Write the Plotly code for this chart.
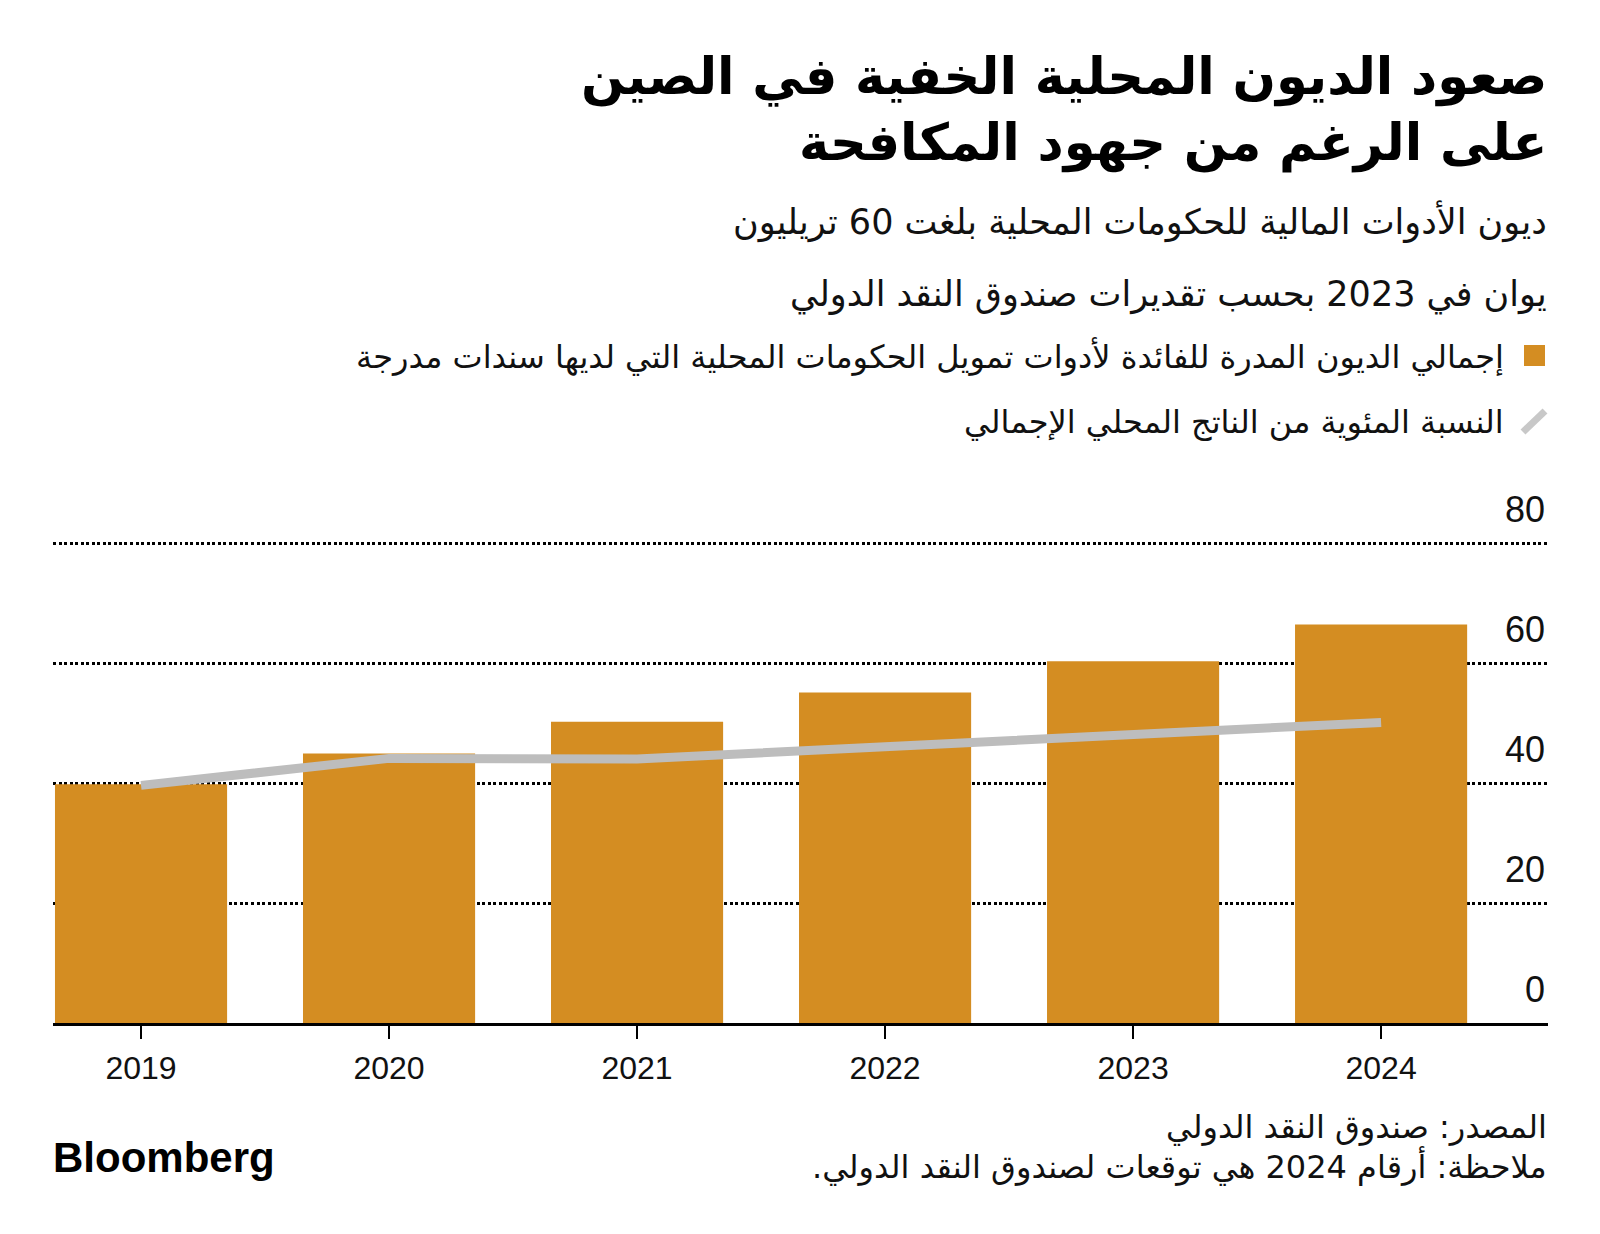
import plotly.graph_objects as go

# ---- data ----
years = ["2019", "2020", "2021", "2022", "2023", "2024"]
debt_trillion_yuan = [39.8, 44.9, 50.2, 55.1, 60.3, 66.4]
pct_of_gdp = [39.6, 44.1, 44.0, 46.1, 48.1, 50.1]
y_ticks = [0, 20, 40, 60, 80]

title_lines = ["صعود الديون المحلية الخفية في الصين", "على الرغم من جهود المكافحة"]
subtitle_lines = ["ديون الأدوات المالية للحكومات المحلية بلغت 60 تريليون",
                  "يوان في 2023 بحسب تقديرات صندوق النقد الدولي"]
legend_bar = "إجمالي الديون المدرة للفائدة لأدوات تمويل الحكومات المحلية التي لديها سندات مدرجة"
legend_line = "النسبة المئوية من الناتج المحلي الإجمالي"
source_text = "المصدر: صندوق النقد الدولي"
note_text = "ملاحظة: أرقام 2024 هي توقعات لصندوق النقد الدولي."

RLM = "\u200f"
BAR_COLOR = "#D48D22"
LINE_COLOR = "#BDBDBD"
AR_FONT = "DejaVu Sans"

OFF = 8  # default page body margin
W, H = 1600 - OFF, 1234 - OFF
L, R, T, B = 53 - OFF, 1600 - 1548, 537 - OFF, 211
PW, PH = W - L - R, H - T - B


def px(x):  # page pixel -> paper
    return (x - OFF - L) / PW


def py(y):
    return (H - B - (y - OFF)) / PH


fig = go.Figure()
fig.add_trace(go.Bar(x=years, y=debt_trillion_yuan, marker=dict(color=BAR_COLOR, line=dict(width=0)),
                     showlegend=False, hoverinfo="skip"))
fig.add_trace(go.Scatter(x=years, y=pct_of_gdp, mode="lines",
                         line=dict(color=LINE_COLOR, width=9), showlegend=False, hoverinfo="skip"))

ann = []
ann.append(dict(text="<b>" + title_lines[0] + RLM + "</b>", x=px(1549), y=py(77),
                font=dict(family=AR_FONT, size=51, color="black")))
ann.append(dict(text="<b>" + title_lines[1] + RLM + "</b>", x=px(1549), y=py(143),
                font=dict(family=AR_FONT, size=51, color="black")))
ann += [
    dict(text=subtitle_lines[0] + RLM, x=px(1549), y=py(221), font=dict(family=AR_FONT, size=35, color="#111")),
    dict(text=subtitle_lines[1] + RLM, x=px(1549), y=py(294), font=dict(family=AR_FONT, size=35, color="#111")),
    dict(text=legend_bar + RLM, x=px(1506), y=py(356), font=dict(family=AR_FONT, size=32, color="#111")),
    dict(text=legend_line + RLM, x=px(1506), y=py(422), font=dict(family=AR_FONT, size=32, color="#111")),
    dict(text=source_text + RLM, x=px(1549), y=py(1127), font=dict(family=AR_FONT, size=32, color="#111")),
    dict(text=note_text + RLM, x=px(1549), y=py(1166), font=dict(family=AR_FONT, size=32, color="#111")),
]
for a in ann:
    a.update(xref="paper", yref="paper", xanchor="right", yanchor="middle", showarrow=False, align="right")
ann.append(dict(text="<b>Bloomberg</b>", xref="paper", yref="paper", x=px(51), y=py(1157),
                xanchor="left", yanchor="middle", showarrow=False,
                font=dict(family="Liberation Sans", size=42, color="black")))

shapes = [
    dict(type="rect", xref="paper", yref="paper", x0=px(1524), x1=px(1545), y0=py(366), y1=py(345),
         fillcolor=BAR_COLOR, line=dict(width=0)),
    dict(type="line", xref="paper", yref="paper", x0=px(1523), x1=px(1545), y0=py(432), y1=py(411),
         line=dict(color="#C8C8C8", width=7)),
]

fig.update_layout(
    width=W, height=H,
    margin=dict(l=L, r=R, t=T, b=B, pad=0),
    paper_bgcolor="white", plot_bgcolor="white",
    bargap=0.306,
    annotations=ann, shapes=shapes,
    font=dict(family="Liberation Sans", color="#111"),
    xaxis=dict(range=[-0.355, 5.673], showgrid=False, showline=True, linecolor="black", linewidth=3,
               ticks="outside", ticklen=13, tickwidth=2, tickcolor="black",
               tickfont=dict(size=32, family="Liberation Sans", color="#111"), ticklabelstandoff=2,
               fixedrange=True),
    yaxis=dict(range=[0, 81], tickvals=y_ticks, side="right", ticklabelposition="inside top",
               ticklabeloverflow="allow", ticklabelshift=-8,
               showgrid=True, gridcolor="black", griddash="3px,2.5px", gridwidth=3,
               zeroline=False, showline=False, ticks="",
               tickfont=dict(size=36, family="Liberation Sans", color="#111"), fixedrange=True),
)

fig.write_html("out.html")
